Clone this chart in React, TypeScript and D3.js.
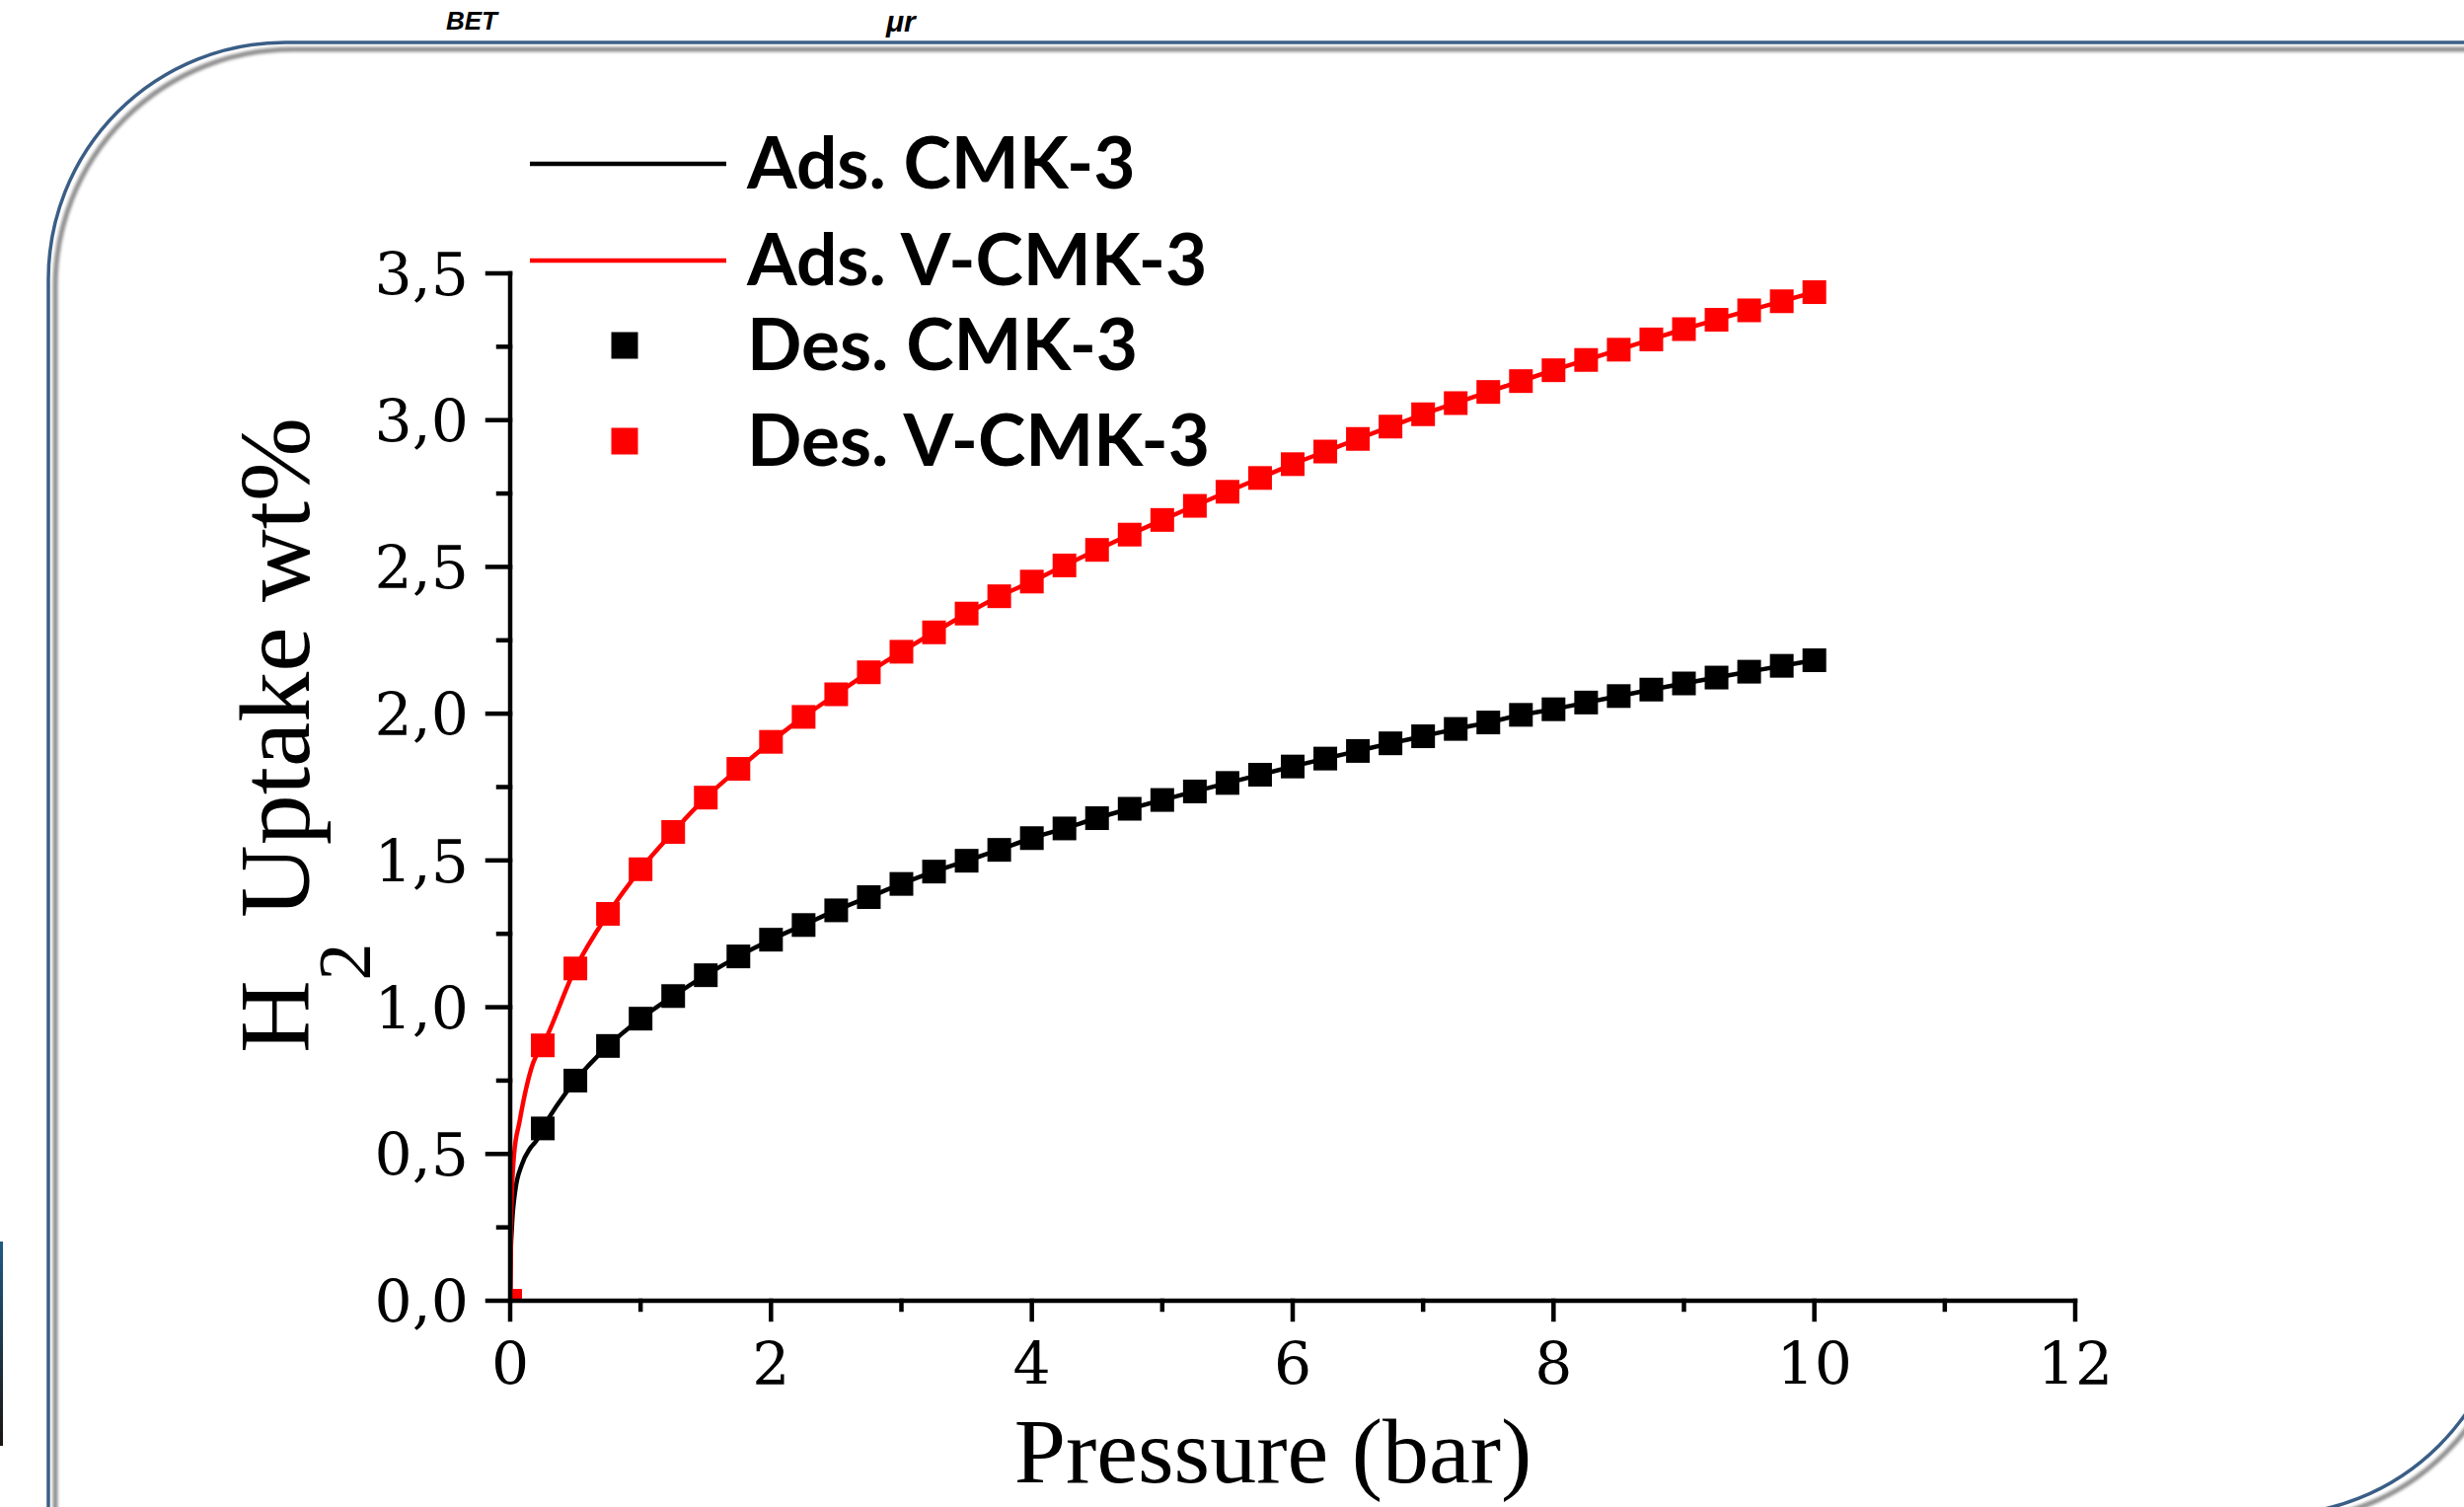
import React, { useRef, useEffect } from 'react';
import * as d3 from 'd3';

// pressure (bar) of the desorption markers
const pressure = [0, 0.25, 0.5, 0.75, 1, 1.25, 1.5, 1.75, 2, 2.25, 2.5, 2.75, 3, 3.25, 3.5, 3.75,
  4, 4.25, 4.5, 4.75, 5, 5.25, 5.5, 5.75, 6, 6.25, 6.5, 6.75, 7, 7.25, 7.5, 7.75,
  8, 8.25, 8.5, 8.75, 9, 9.25, 9.5, 9.75, 10];

const desCMK3 = [0, 0.587, 0.75, 0.868, 0.961, 1.038, 1.109, 1.173, 1.23, 1.28, 1.33, 1.375, 1.42, 1.462, 1.499, 1.536,
  1.576, 1.609, 1.644, 1.676, 1.706, 1.735, 1.764, 1.792, 1.82, 1.847, 1.873, 1.899, 1.923, 1.948, 1.97, 1.996,
  2.015, 2.038, 2.06, 2.082, 2.103, 2.123, 2.143, 2.163, 2.182];

const desVCMK3 = [0, 0.87, 1.132, 1.318, 1.47, 1.597, 1.714, 1.812, 1.904, 1.989, 2.066, 2.141, 2.211, 2.277, 2.341, 2.4,
  2.45, 2.505, 2.558, 2.61, 2.66, 2.708, 2.756, 2.803, 2.85, 2.893, 2.936, 2.978, 3.02, 3.058, 3.096, 3.133,
  3.17, 3.205, 3.24, 3.275, 3.31, 3.342, 3.374, 3.405, 3.436];

// extra low-pressure points of the adsorption curves
const adsLowPressureCMK3 = [0, 0.004, 0.013, 0.038, 0.088, 0.151, 0.202];
const adsLowUptakeCMK3 = [0, 0.15, 0.249, 0.372, 0.462, 0.518, 0.546];
const adsLowPressureVCMK3 = [0, 0.006, 0.03, 0.071, 0.121, 0.176];
const adsLowUptakeVCMK3 = [0, 0.27, 0.499, 0.608, 0.72, 0.81];

const xTicks = [0, 2, 4, 6, 8, 10, 12];
const xMinorTicks = [1, 3, 5, 7, 9, 11];
const yTicks = [0, 0.5, 1, 1.5, 2, 2.5, 3, 3.5];
const yTickLabels = ["0,0", "0,5", "1,0", "1,5", "2,0", "2,5", "3,0", "3,5"];
const yMinorTicks = [0.25, 0.75, 1.25, 1.75, 2.25, 2.75, 3.25];

const legendLabels = ["Ads. CMK-3", "Ads. V-CMK-3", "Des. CMK-3", "Des. V-CMK-3"];
const seriesColors = ["#000000", "#ff0000"];

const App = () => {
  const svgRef = useRef(null);

  useEffect(() => {
    const W = 2497, H = 1527;
    const svg = d3.select(svgRef.current);
    svg.selectAll("*").remove();
    svg.attr("width", W).attr("height", H);

    svg.append("rect").attr("width", W).attr("height", H).attr("fill", "#fff");

    const x = d3.scaleLinear().domain([0, 12]).range([517, 2103]);
    const y = d3.scaleLinear().domain([0, 3.5]).range([1318, 277]);

    const defs = svg.append("defs");
    defs.append("filter").attr("id", "soft")
      .append("feGaussianBlur").attr("stdDeviation", 1.6);
    const grad = defs.append("linearGradient").attr("id", "bar")
      .attr("x1", 0).attr("y1", 0).attr("x2", 0).attr("y2", 1);
    grad.append("stop").attr("offset", "0%").attr("stop-color", "#1f5a86");
    grad.append("stop").attr("offset", "100%").attr("stop-color", "#1a1410");
    defs.append("clipPath").attr("id", "plot")
      .append("rect").attr("x", x(0)).attr("y", y(3.5))
      .attr("width", x(12) - x(0)).attr("height", y(0) - y(3.5));

    // caption fragments at the very top
    const cap = svg.append("g").attr("font-family", "Liberation Sans").attr("font-weight", "bold")
      .attr("font-style", "italic").attr("fill", "#000");
    cap.append("text").attr("x", 452).attr("y", 30).attr("font-size", 26).text("BET");
    cap.append("text").attr("x", 898).attr("y", 32).attr("font-size", 30).text("μr");

    // piece of a neighbouring image on the left edge
    svg.append("rect").attr("x", 0).attr("y", 1258).attr("width", 3).attr("height", 207).attr("fill", "url(#bar)");

    // frame: rectangle with rounded top-left and bottom-right corners, with drop shadow
    const fx0 = 49, fy0 = 43, fx1 = 2542, fy1 = 1535, r = 240;
    const framePath = `M${fx0},${fy0 + r} A${r},${r} 0 0 1 ${fx0 + r},${fy0} L${fx1},${fy0} L${fx1},${fy1 - r} ` +
      `A${r},${r} 0 0 1 ${fx1 - r},${fy1} L${fx0},${fy1} Z`;
    svg.append("path").attr("d", framePath).attr("transform", "translate(7,7)")
      .attr("fill", "none").attr("stroke", "#8f8f8f").attr("stroke-width", 5).attr("filter", "url(#soft)");
    svg.append("path").attr("d", framePath)
      .attr("fill", "none").attr("stroke", "#3a5e86").attr("stroke-width", 3.5);

    // adsorption curves
    const line = d3.line().x(d => x(d[0])).y(d => y(d[1])).curve(d3.curveMonotoneX);
    const adsCMK3 = adsLowPressureCMK3.map((p, i) => [p, adsLowUptakeCMK3[i]])
      .concat(pressure.slice(1).map((p, i) => [p, desCMK3[i + 1]]));
    const adsVCMK3 = adsLowPressureVCMK3.map((p, i) => [p, adsLowUptakeVCMK3[i]])
      .concat(pressure.slice(1).map((p, i) => [p, desVCMK3[i + 1]]));

    const plot = svg.append("g").attr("clip-path", "url(#plot)");
    [adsCMK3, adsVCMK3].forEach((pts, i) => {
      plot.append("path").attr("d", line(pts)).attr("fill", "none")
        .attr("stroke", seriesColors[i]).attr("stroke-width", 4.5);
    });

    // desorption markers
    const ms = 24;
    [desCMK3, desVCMK3].forEach((vals, i) => {
      plot.append("g").selectAll("rect").data(vals).enter().append("rect")
        .attr("x", (d, j) => x(pressure[j]) - ms / 2)
        .attr("y", d => y(d) - ms / 2)
        .attr("width", ms).attr("height", ms)
        .attr("fill", seriesColors[i]);
    });

    // axes
    const ax = svg.append("g").attr("stroke", "#000").attr("stroke-width", 4.5).attr("stroke-linecap", "square");
    ax.append("line").attr("x1", x(0)).attr("x2", x(12)).attr("y1", y(0)).attr("y2", y(0));
    ax.append("line").attr("x1", x(0)).attr("x2", x(0)).attr("y1", y(0)).attr("y2", y(3.5));
    ax.selectAll(".xt").data(xTicks).enter().append("line")
      .attr("x1", d => x(d)).attr("x2", d => x(d)).attr("y1", y(0)).attr("y2", y(0) + 19);
    ax.selectAll(".xm").data(xMinorTicks).enter().append("line")
      .attr("x1", d => x(d)).attr("x2", d => x(d)).attr("y1", y(0)).attr("y2", y(0) + 9);
    ax.selectAll(".yt").data(yTicks).enter().append("line")
      .attr("x1", x(0) - 23).attr("x2", x(0)).attr("y1", d => y(d)).attr("y2", d => y(d));
    ax.selectAll(".ym").data(yMinorTicks).enter().append("line")
      .attr("x1", x(0) - 12).attr("x2", x(0)).attr("y1", d => y(d)).attr("y2", d => y(d));

    const tl = svg.append("g").attr("font-family", "DejaVu Serif").attr("font-size", 60).attr("fill", "#000");
    tl.selectAll(".xl").data(xTicks).enter().append("text")
      .attr("x", d => x(d)).attr("y", 1403).attr("text-anchor", "middle").text(d => d);
    tl.selectAll(".yl").data(yTicks).enter().append("text")
      .attr("x", x(0) - 42).attr("y", d => y(d) + 22).attr("text-anchor", "end")
      .text((d, i) => yTickLabels[i]);

    // axis titles
    svg.append("text")
      .attr("x", 1290).attr("y", 1502).attr("text-anchor", "middle")
      .attr("font-family", "Liberation Serif").attr("font-size", 94).text("Pressure (bar)");

    const yt = svg.append("text")
      .attr("transform", "translate(313,745) rotate(-90)").attr("text-anchor", "middle")
      .attr("font-family", "Liberation Serif").attr("font-size", 102);
    yt.append("tspan").text("H");
    yt.append("tspan").attr("font-size", 76).attr("dy", 62).text("2");
    yt.append("tspan").attr("dy", -62).text(" Uptake wt%");

    // legend
    const lg = svg.append("g");
    const rows = [166, 264, 350, 447];
    lg.selectAll(".ll").data([0, 1]).enter().append("line")
      .attr("x1", 537).attr("x2", 736).attr("y1", d => rows[d]).attr("y2", d => rows[d])
      .attr("stroke", d => seriesColors[d]).attr("stroke-width", 4.5);
    lg.selectAll(".lm").data([0, 1]).enter().append("rect")
      .attr("x", 633 - 13.5).attr("y", d => rows[d + 2] - 13.5).attr("width", 27).attr("height", 27)
      .attr("fill", d => seriesColors[d]);
    lg.selectAll(".lt").data(legendLabels).enter().append("text")
      .attr("x", 757).attr("y", (d, i) => rows[i] + 25)
      .attr("font-family", "Lato").attr("font-weight", "bold").attr("font-size", 73)
      .attr("fill", "#000").text(d => d);
  }, []);

  return <svg ref={svgRef} style={{ position: 'absolute', left: 0, top: 0, display: 'block' }}></svg>;
};

export default App;
